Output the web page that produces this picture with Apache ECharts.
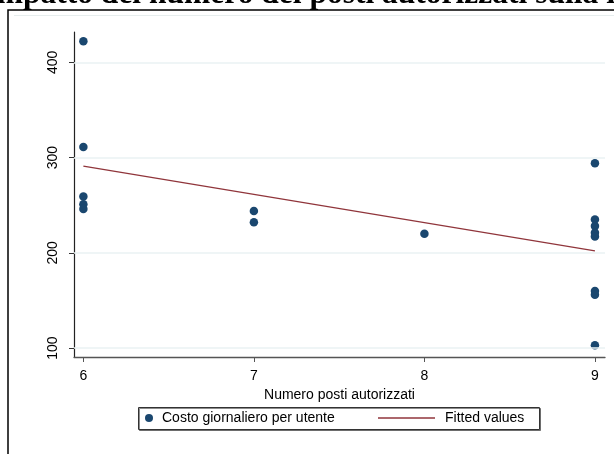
<!DOCTYPE html>
<html>
<head>
<meta charset="utf-8">
<script src="https://cdn.jsdelivr.net/npm/echarts@6/dist/echarts.min.js"></script>
<style>html,body{margin:0;padding:0;background:#fff;}#c{width:614px;height:454px;}</style>
</head>
<body>
<div id="c"></div>
<script>
// Data
const xTicks = [6, 7, 8, 9];
const yTicks = [100, 200, 300, 400];
const postiX = [6, 6, 6, 6, 6, 7, 7, 8, 9, 9, 9, 9, 9, 9, 9, 9];
const costoY = [422, 311, 259, 251, 246, 244, 232, 220, 294, 235, 228, 221, 217, 160, 156, 103];
const fittedX = [6, 9];
const fittedY = [291, 202];
const seriesNames = ['Costo giornaliero per utente', 'Fitted values'];
const titleText = 'Impatto del numero dei posti autorizzati sulla retta';
const xTitle = 'Numero posti autorizzati';

const chart = echarts.init(document.getElementById('c'), null, {renderer: 'canvas'});
const font = '"Liberation Sans", Arial, sans-serif';

const option = {
  backgroundColor: '#ffffff',
  animation: false,
  graphic: [
    {type: 'rect', shape: {x: 8, y: 10, width: 700, height: 500}, style: {fill: 'none', stroke: '#000', lineWidth: 1.5}, z: 0},
    {type: 'line', shape: {x1: 14, y1: 15.5, x2: 614, y2: 15.5}, style: {stroke: '#e6eded', lineWidth: 1}, z: 0},
    {type: 'text', left: -15.5, top: -21, style: {text: titleText, font: 'bold 31.5px "Liberation Serif", "Times New Roman", serif', fill: '#000'}, z: 5},
    {type: 'rect', shape: {x: 138.5, y: 407.5, width: 401, height: 22}, style: {fill: '#fff', stroke: '#333', lineWidth: 1, shadowColor: 'rgba(0,0,0,0.45)', shadowOffsetX: 1, shadowOffsetY: 1, shadowBlur: 0}, z: 0}
  ],
  legend: [
    {data: [seriesNames[0]], left: 145, top: 411, itemWidth: 8, itemHeight: 8, padding: 0,
     textStyle: {fontFamily: font, fontSize: 14, color: '#000', padding: [0, 0, 0, 4]}, z: 10},
    {data: [{name: seriesNames[1], icon: 'rect'}], left: 378, top: 411, itemWidth: 57, itemHeight: 1.4, padding: 0,
     itemStyle: {color: '#90353b'},
     textStyle: {fontFamily: font, fontSize: 14, color: '#000', padding: [0, 0, 0, 5]}, z: 10}
  ],
  grid: {left: 74, top: 32, width: 531, height: 325, containLabel: false},
  xAxis: {
    type: 'value', min: 5.945, max: 9.059,
    name: xTitle, nameLocation: 'middle', nameGap: 24,
    nameTextStyle: {fontFamily: font, fontSize: 14, color: '#000'},
    axisLine: {show: true, onZero: false, lineStyle: {color: '#555', width: 1.3}},
    axisTick: {show: true, length: 5, customValues: xTicks, lineStyle: {color: '#555', width: 1}},
    axisLabel: {customValues: xTicks, margin: 12, fontFamily: font, fontSize: 14, color: '#000'},
    splitLine: {show: false}
  },
  yAxis: {
    type: 'value', min: 90.6, max: 431.8,
    axisLine: {show: true, onZero: false, lineStyle: {color: '#222', width: 1.2}},
    axisTick: {show: true, length: 5, customValues: yTicks, lineStyle: {color: '#333', width: 1}},
    axisLabel: {customValues: yTicks, rotate: 90, margin: 14, fontFamily: font, fontSize: 14, color: '#000'},
    splitLine: {show: false}
  },
  series: [
    {
      name: seriesNames[0], type: 'scatter', z: 4,
      symbol: 'circle', symbolSize: 8.5,
      itemStyle: {color: '#1a476f', opacity: 1},
      data: postiX.map((x, i) => [x, costoY[i]])
    },
    {
      name: seriesNames[1], type: 'line', z: 3,
      symbol: 'none', showSymbol: false,
      lineStyle: {color: '#90353b', width: 1.3},
      itemStyle: {color: '#90353b'},
      data: fittedX.map((x, i) => [x, fittedY[i]]),
      markLine: {
        silent: true, symbol: ['none', 'none'], animation: false,
        label: {show: false},
        lineStyle: {color: '#eaf2f3', width: 1.5, type: 'solid'},
        emphasis: {disabled: true},
        data: yTicks.map(v => ({yAxis: v}))
      }
    }
  ]
};
chart.setOption(option);
</script>
</body>
</html>
